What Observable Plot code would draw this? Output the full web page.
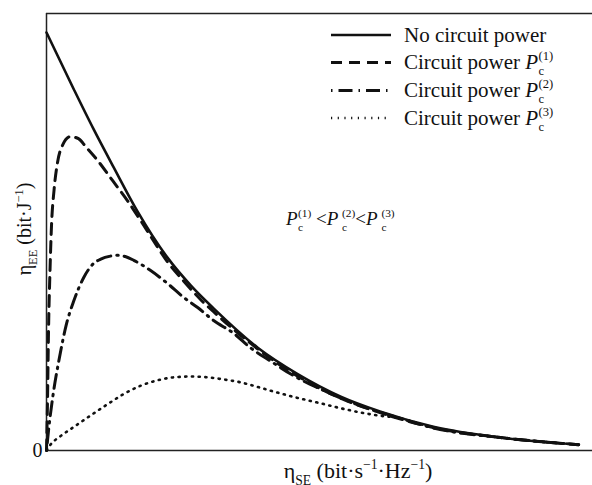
<!DOCTYPE html>
<html><head><meta charset="utf-8">
<script src="https://cdn.jsdelivr.net/npm/d3@7"></script>
<script src="https://cdn.jsdelivr.net/npm/@observablehq/plot@0.6"></script>
<style>
body{margin:0;background:#fff;}
#chart svg{display:block;}
</style>
</head><body><div id="chart"></div>
<script>
// ---- data (normalised units) ----
const seriesNames = ["No circuit power", "Circuit power P(1)", "Circuit power P(2)", "Circuit power P(3)"];
const legendIdx = [null, "(1)", "(2)", "(3)"];

const se0 = [0, 0.51, 0.88, 1.26, 1.71, 2.27, 2.71, 3.14, 3.97, 4.72, 5.53, 6.28, 7.27, 8.53, 10];
const ee0 = [1.0, 0.865, 0.77, 0.678, 0.572, 0.462, 0.395, 0.34, 0.246, 0.183, 0.129, 0.093, 0.057, 0.031, 0.014];

const se1 = [0, 0.019, 0.038, 0.066, 0.094, 0.141, 0.207, 0.30, 0.45, 0.60, 0.75, 0.96, 1.24, 1.52, 1.77, 2.01, 2.27, 2.58, 2.89, 3.14, 3.78, 4.27, 4.72, 5.53, 6.28, 7.27, 8.53, 10];
const ee1 = [0, 0.12, 0.287, 0.431, 0.538, 0.622, 0.689, 0.730, 0.751, 0.746, 0.725, 0.694, 0.646, 0.598, 0.55, 0.502, 0.452, 0.405, 0.362, 0.332, 0.262, 0.215, 0.178, 0.125, 0.09, 0.055, 0.031, 0.014];

const se2 = [0, 0.04, 0.12, 0.24, 0.37, 0.51, 0.70, 0.88, 1.02, 1.20, 1.33, 1.48, 1.64, 1.95, 2.27, 2.58, 2.84, 3.14, 3.52, 3.83, 4.21, 4.59, 5.15, 5.90, 6.65, 7.27, 8.53, 10];
const ee2 = [0, 0.05, 0.13, 0.22, 0.30, 0.357, 0.414, 0.447, 0.458, 0.465, 0.467, 0.464, 0.455, 0.431, 0.40, 0.366, 0.342, 0.311, 0.28, 0.246, 0.214, 0.183, 0.147, 0.107, 0.077, 0.054, 0.031, 0.014];

const se3 = [0, 0.075, 0.26, 0.51, 0.83, 1.15, 1.45, 1.77, 2.09, 2.39, 2.71, 3.03, 3.33, 3.65, 3.97, 4.27, 4.59, 4.91, 5.21, 5.53, 5.90, 6.22, 6.65, 7.27, 8.53, 10];
const ee3 = [0, 0.014, 0.034, 0.056, 0.084, 0.111, 0.135, 0.155, 0.168, 0.175, 0.177, 0.175, 0.170, 0.163, 0.152, 0.141, 0.130, 0.120, 0.111, 0.101, 0.091, 0.084, 0.077, 0.054, 0.031, 0.014];

const yTicks = [0];
const xMax = 10.26, yMax = 1.0455;

// ---- styles ----
const styles = [
  {sw: 2.6, dash: null, off: 0},
  {sw: 3.0, dash: "11,7", off: 0},
  {sw: 3.0, dash: "14,6,1.5,6", off: 20},
  {sw: 2.6, dash: "1.2,5.5", off: 0}
];
const SE = [se0, se1, se2, se3], EE = [ee0, ee1, ee2, ee3];
const rowsFor = k => SE[k].map((x, i) => ({x, y: EE[k][i]}));

const FONT = "'Liberation Serif', 'Times New Roman', serif";

const plot = Plot.plot({
  width: 592, height: 485,
  marginLeft: 46, marginRight: 0, marginTop: 13, marginBottom: 35,
  style: {background: "#fff", fontFamily: FONT, color: "#111"},
  x: {domain: [0, xMax], axis: null},
  y: {domain: [0, yMax], axis: null},
  marks: [
    Plot.ruleY([0, yMax], {stroke: "#222", strokeWidth: 1.5}),
    Plot.ruleX([0], {stroke: "#222", strokeWidth: 1.5}),
    Plot.axisY(yTicks, {tickSize: 0, tickPadding: 4, fontSize: 20, label: null, tickFormat: d => String(d)}),
    ...[3, 2, 1, 0].map(k => Plot.line(rowsFor(k), {
      x: "x", y: "y", stroke: "#111", strokeWidth: styles[k].sw,
      strokeDasharray: styles[k].dash, strokeDashoffset: styles[k].off,
      curve: "monotone-x"
    }))
  ]
});
document.getElementById("chart").appendChild(plot);

// ---- rich text helpers ----
const svg = d3.select(plot);
function richInto(parent, x, y, size, parts, anchor) {
  const t = parent.append("text").attr("x", x).attr("y", y)
    .attr("text-anchor", anchor || "start")
    .attr("font-family", FONT).attr("font-size", size).attr("fill", "#111");
  let cur = 0;
  parts.forEach(p => {
    const s = t.append("tspan").text(p.t);
    const sc = p.scale || 1;
    s.attr("font-size", size * sc);
    let off = 0;
    if (p.shift === "sub") off = 0.3 * size;
    if (p.shift === "sup") off = -0.42 * size;
    if (off !== cur) { s.attr("dy", off - cur); cur = off; }
    if (p.dx) s.attr("dx", p.dx * size);
    if (p.italic) s.attr("font-style", "italic");
  });
  return t;
}
const rich = (x, y, size, parts, anchor) => richInto(svg, x, y, size, parts, anchor);
const Pc = (k, gap = 0.02) => [
  {t: "P", italic: true},
  {t: "c", shift: "sub", scale: 0.6, dx: gap},
  {t: k, shift: "sup", scale: 0.6, dx: -0.27}
];

// legend
const legX0 = 331, legX1 = 391, legTextX = 404;
const legBase = [41.5, 69, 97, 124.5];
legBase.forEach((b, k) => {
  const ly = b - 6.5;
  svg.append("line").attr("x1", legX0).attr("x2", legX1).attr("y1", ly).attr("y2", ly)
    .attr("stroke", "#111").attr("stroke-width", styles[k].sw)
    .attr("stroke-dasharray", styles[k].dash).attr("stroke-dashoffset", styles[k].off);
  if (k === 0) rich(legTextX, b, 21, [{t: seriesNames[0]}]);
  else rich(legTextX, b, 21, [{t: "Circuit power "}, ...Pc(legendIdx[k])]);
});

// annotation
rich(286, 225, 19, [
  ...Pc("(1)"), {t: " <"},
  ...Pc("(2)", 0.2), {t: "<"},
  ...Pc("(3)", 0.2)
]);

// axis titles
rich(358, 478, 22, [
  {t: "η"}, {t: "SE", shift: "sub", scale: 0.62},
  {t: " (bit·s"}, {t: "−1", shift: "sup", scale: 0.62},
  {t: "·Hz"}, {t: "−1", shift: "sup", scale: 0.62}, {t: ")"}
], "middle");

const yl = svg.append("g").attr("transform", "translate(31,229) rotate(-90)");
richInto(yl, 0, 0, 20, [
  {t: "η"}, {t: "EE", shift: "sub", scale: 0.62},
  {t: " (bit·J"}, {t: "−1", shift: "sup", scale: 0.62}, {t: ")"}
], "middle");
</script>
</body></html>
